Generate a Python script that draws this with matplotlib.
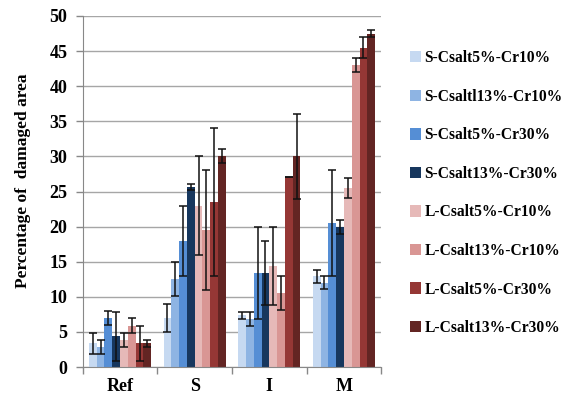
import numpy as np
import matplotlib
matplotlib.use("Agg")
import matplotlib.pyplot as plt

plt.rcParams['font.family'] = ['Liberation Serif', 'DejaVu Serif']
plt.rcParams['font.weight'] = 'bold'

groups = ['Ref', 'S', 'I', 'M']
series = ['S-Csalt5%-Cr10%', 'S-Csaltl13%-Cr10%', 'S-Csalt5%-Cr30%', 'S-Csalt13%-Cr30%',
          'L-Csalt5%-Cr10%', 'L-Csalt13%-Cr10%', 'L-Csalt5%-Cr30%', 'L-Csalt13%-Cr30%']
colors = ['#C6D9F1', '#8EB4E3', '#558ED5', '#17375E',
          '#E6B9B8', '#D99694', '#953735', '#632523']

# values per series, in order Ref, S, I, M
values = [
    [3.4, 7.0, 7.4, 12.9],
    [2.8, 12.5, 6.9, 12.0],
    [7.0, 18.0, 13.4, 20.5],
    [4.4, 25.6, 13.4, 20.0],
    [3.9, 23.0, 14.4, 25.5],
    [5.9, 19.5, 10.5, 43.0],
    [3.4, 23.5, 27.0, 45.5],
    [3.4, 30.0, 30.0, 47.5],
]
errors = [
    [1.5, 2.0, 0.5, 0.95],
    [1.0, 2.4, 1.0, 0.9],
    [1.0, 5.0, 6.5, 7.5],
    [3.5, 0.4, 4.5, 1.0],
    [1.0, 7.0, 5.5, 1.4],
    [1.1, 8.5, 2.4, 1.0],
    [2.5, 10.5, 0.0, 1.5],
    [0.5, 1.0, 6.0, 0.5],
]

fig = plt.figure(figsize=(5.68, 4.0), dpi=100)
ax = fig.add_axes([0.1456, 0.0825, 0.5257, 0.8775])

n = len(series)
w = 0.835 / n
x = np.arange(len(groups)) + 0.5
for j in range(n):
    pos = x + (j - (n - 1) / 2) * w
    ax.bar(pos, values[j], width=w, color=colors[j], label=series[j], zorder=2)
    ax.errorbar(pos, values[j], yerr=errors[j], fmt='none', ecolor='#111111',
                elinewidth=1.1, capsize=3, capthick=1.1, zorder=3)

ax.set_xlim(0, len(groups))
ax.set_ylim(0, 50)
ax.set_yticks(range(0, 51, 5))
ax.yaxis.grid(True, color='#a6a6a6', linewidth=1, zorder=0)
ax.set_axisbelow(True)

ax.set_xticks(x)
ax.set_xticklabels(groups)
ax.set_xticks(range(len(groups) + 1), minor=True)
ax.tick_params(axis='x', which='major', length=0, pad=8, labelsize=13)
ax.tick_params(axis='x', which='minor', length=5, color='#888888', width=1, direction='out')
ax.tick_params(axis='y', length=5, color='#888888', width=1, labelsize=13, pad=6)

for s in ['top', 'right']:
    ax.spines[s].set_visible(False)
for s in ['left', 'bottom']:
    ax.spines[s].set_color('#888888')

ax.set_ylabel('Percentage of  damaged area', fontsize=12.5, fontweight='bold')
ax.yaxis.set_label_coords(-0.173, 0.53)

leg = fig.legend(loc='upper left', bbox_to_anchor=(0.71, 0.89), frameon=False,
                 fontsize=11.2, handlelength=0.75, handleheight=0.75, handletextpad=0.2,
                 labelspacing=1.45, borderaxespad=0)

fig.savefig('out.png', dpi=100)
